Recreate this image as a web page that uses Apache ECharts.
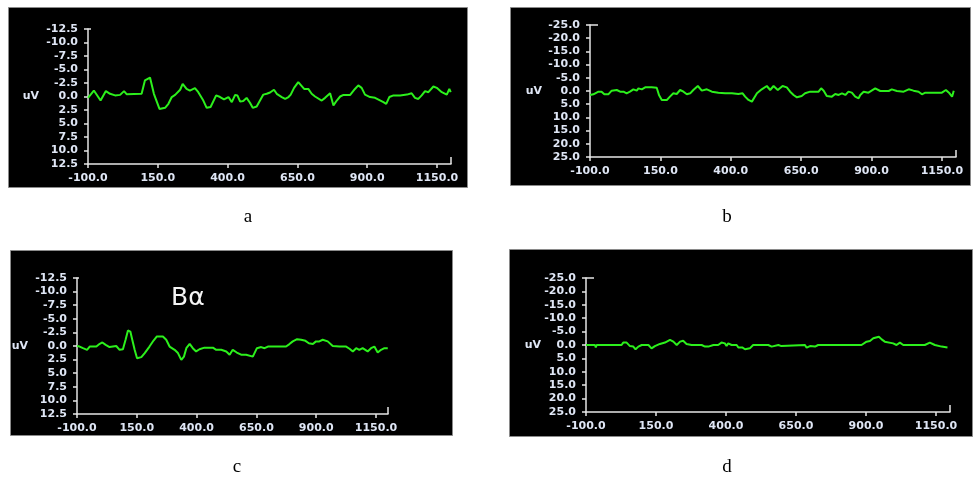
<!DOCTYPE html>
<html>
<head>
<meta charset="utf-8">
<script src="https://cdn.jsdelivr.net/npm/echarts@6/dist/echarts.min.js"></script>
<style>
  html, body { margin: 0; padding: 0; background: #ffffff; }
  #chart { width: 974px; height: 481px; }
</style>
</head>
<body>
<div id="chart"></div>
<script>
// Averaged ERP traces (uV) against time (ms), four recording conditions a-d.
const xTicks = [-100, 150, 400, 650, 900, 1150];
const xMin = -100, xMax = 1200;

const timeA = [-100, -79, -55, -36, -21, -3, 15, 29, 39, 92,
  104, 122, 136, 156, 176, 188, 200, 212, 230, 239,
  253, 265, 283, 295, 313, 325, 339, 359, 373, 387,
  403, 415, 427, 435, 445, 456, 468, 480, 490, 504,
  510, 528, 540, 552, 566, 576, 594, 606, 618, 626,
  638, 653, 659, 674, 689, 701, 713, 737, 749, 767,
  779, 791, 803, 815, 839, 856, 868, 880, 892, 910,
  928, 958, 968, 979, 994, 1018, 1042, 1059, 1071, 1083,
  1095, 1107, 1119, 1137, 1149, 1167, 1185, 1194, 1199];
const uvA = [0.25, -1.1, 0.75, -1.0, -0.5, -0.2, -0.3, -1.0, -0.4, -0.5,
  -3.0, -3.5, -0.5, 2.3, 2.1, 1.35, 0.1, -0.3, -1.25, -2.35,
  -1.4, -1.1, -1.55, -0.8, 0.75, 2.1, 1.95, -0.2, 0.1, 0.55,
  0.1, 1.05, -0.3, -0.2, 0.95, 0.85, 0.25, 1.15, 2.1, 1.85,
  1.85, -0.35, -0.5, -0.75, -1.25, -0.5, 0.1, 0.45, 0.1, -0.35,
  -1.6, -2.65, -2.55, -1.4, -1.4, -0.5, 0.0, 0.75, 0.25, -0.6,
  1.65, 0.75, 0.0, -0.3, -0.3, -1.4, -2.05, -1.6, -0.35, 0.1,
  0.25, 1.05, 1.35, 0.1, -0.2, -0.2, -0.35, -0.6, 0.25, 0.45,
  -0.2, -1.0, -0.8, -1.85, -1.6, -0.8, -0.35, -1.4, -0.8];

const timeB = [-100, -88, -70, -59, -49, -35, -23, -5, 7, 19,
  30, 42, 54, 66, 72, 84, 96, 119, 137, 145,
  155, 173, 184, 196, 208, 220, 232, 244, 256, 267,
  283, 297, 315, 333, 356, 380, 404, 427, 442, 451,
  463, 475, 481, 493, 510, 528, 540, 552, 567, 584,
  599, 611, 623, 635, 652, 664, 682, 712, 721, 730,
  741, 759, 771, 783, 795, 807, 818, 830, 842, 854,
  860, 872, 889, 913, 931, 961, 972, 990, 1014, 1032,
  1049, 1067, 1079, 1091, 1115, 1150, 1164, 1177, 1186, 1192];
const uvB = [1.5, 1.26, 0.25, 0.25, 1.26, 1.26, -0.13, -0.38, 0.25, 0.25,
  0.88, 0.25, -0.63, -0.13, -1.0, -0.63, -1.39, -1.39, -1.26, 1.5,
  3.4, 3.4, 2.14, 0.88, 1.13, -0.38, 0.25, 1.26, 0.88, -0.38,
  -1.89, -0.13, -0.63, 0.25, 0.63, 0.88, 0.88, 1.13, 0.88, 2.14,
  3.4, 4.03, 3.4, 0.88, -0.63, -1.89, -0.38, -1.89, -0.38, -1.89,
  -1.39, 0.25, 1.5, 2.39, 1.89, 0.88, 0.25, 0.25, -1.0, -0.13,
  1.89, 2.14, 1.13, 1.5, 0.88, 1.5, 0.25, 0.63, 2.14, 2.77,
  1.5, 0.25, 0.63, -1.0, 0.0, 0.0, -0.63, 0.0, 0.25, -0.63,
  -0.13, 0.25, 1.26, 0.63, 0.63, 0.63, -0.38, 0.88, 2.14, -0.13];

const timeC = [-100, -89, -75, -58, -47, -19, -5, 6, 20, 36,
  50, 64, 78, 92, 103, 113, 123, 131, 141, 151,
  169, 183, 203, 220, 234, 259, 273, 287, 308, 322,
  336, 347, 357, 371, 384, 398, 412, 433, 468, 482,
  503, 524, 538, 551, 568, 586, 607, 635, 642, 652,
  670, 684, 698, 732, 774, 788, 802, 820, 837, 855,
  869, 886, 899, 913, 927, 948, 969, 997, 1025, 1039,
  1053, 1067, 1080, 1094, 1115, 1129, 1143, 1157, 1171, 1185,
  1199];
const uvC = [0.0, 0.1, 0.4, 0.7, 0.1, 0.1, -0.4, -0.65, -0.2, 0.2,
  0.1, 0.0, 0.7, 0.6, -1.15, -2.85, -2.65, -1.15, 0.7, 2.25,
  2.05, 1.3, 0.1, -1.0, -1.75, -1.75, -1.15, 0.1, 0.7, 1.3,
  2.55, 1.95, 0.4, -0.4, 0.4, 1.0, 0.6, 0.3, 0.3, 0.7,
  0.7, 1.0, 1.6, 0.7, 1.2, 1.6, 1.6, 1.95, 1.3, 0.4,
  0.2, 0.4, 0.1, 0.1, 0.1, -0.35, -0.85, -1.25, -1.15, -0.95,
  -0.5, -0.35, -0.85, -0.85, -1.15, -0.85, 0.0, 0.1, 0.1, 0.5,
  1.0, 0.4, 0.7, 0.4, 1.0, 0.4, 0.1, 1.2, 0.7, 0.4,
  0.4];

const timeD = [-100, -68, -65, -62, 27, 33, 45, 57, 69, 77,
  87, 99, 123, 134, 146, 164, 182, 200, 212, 224,
  236, 247, 259, 277, 313, 325, 337, 355, 372, 384,
  396, 402, 408, 420, 438, 444, 458, 468, 485, 497,
  527, 551, 563, 587, 598, 682, 688, 700, 718, 729,
  825, 827, 831, 884, 902, 914, 926, 932, 946, 956,
  967, 997, 1009, 1021, 1033, 1110, 1128, 1146, 1170, 1191];
const uvD = [0, 0, 0.9, 0, 0, -0.9, -0.9, 0.4, 0.6, 1.6,
  0.6, 0, 0, 1.25, 0.4, -0.4, -0.9, -1.9, -1.25, 0,
  -1.25, -1.6, -0.4, 0, 0, 0.6, 0.6, 0, 0, -0.9,
  -0.6, 0.4, -0.6, 0, 0, 0.9, 0.9, 1.6, 1.25, 0,
  0, 0, 0.6, 0, 0.4, 0, 1.0, 0.4, 0.6, 0,
  0, 0.6, 0, 0, -1.25, -1.5, -2.5, -3.1, -3.1, -2.1,
  -1.25, -0.6, 0, -0.9, 0, 0, -0.9, 0, 0.6, 0.9];

// Panel layout: black frame, plot grid, caption, y range
const panels = [
  { caption: 'a', frame: [8, 7, 459, 180], grid: [88, 29, 363, 135], cap: [248, 217], yMax: 12.5, yStep: 2.5, topStub: 3, nameGap: 49, time: timeA, uv: uvA },
  { caption: 'b', frame: [510, 7, 460, 178], grid: [590, 25, 366, 132], cap: [727, 217], yMax: 25, yStep: 5, topStub: 8, nameGap: 48, time: timeB, uv: uvB },
  { caption: 'c', frame: [10, 250, 442, 185], grid: [77, 278, 311, 136], cap: [237, 467], yMax: 12.5, yStep: 2.5, topStub: 2, nameGap: 49, time: timeC, uv: uvC },
  { caption: 'd', frame: [509, 249, 463, 187], grid: [586, 278, 364, 134], cap: [727, 467], yMax: 25, yStep: 5, topStub: 8, nameGap: 45, time: timeD, uv: uvD }
];

const axisColor = '#e6e6e6';
const labelColor = '#dfe6f5';
const labelFont = { fontFamily: 'DejaVu Sans', fontWeight: 'bold', fontSize: 11, color: labelColor };

const chart = echarts.init(document.getElementById('chart'), null, { renderer: 'canvas' });

const grids = [], xAxes = [], yAxes = [], series = [], graphics = [];

panels.forEach((p, i) => {
  const [fx, fy, fw, fh] = p.frame;
  const [gl, gt, gw, gh] = p.grid;
  graphics.push({
    type: 'rect', z: -10, silent: true,
    shape: { x: fx + 0.5, y: fy + 0.5, width: fw, height: fh },
    style: { fill: '#000000', stroke: '#8a8a8a', lineWidth: 1 }
  });
  // small stubs closing the axes: at the top of the y axis and the far end of the x axis
  graphics.push({
    type: 'line', z: 10, silent: true,
    shape: { x1: gl, y1: gt, x2: gl + p.topStub, y2: gt },
    style: { stroke: axisColor, lineWidth: 1.5 }
  });
  graphics.push({
    type: 'line', z: 10, silent: true,
    shape: { x1: gl + gw, y1: gt + gh, x2: gl + gw, y2: gt + gh - 7 },
    style: { stroke: axisColor, lineWidth: 1.5 }
  });
  graphics.push({
    type: 'text', silent: true,
    x: p.cap[0], y: p.cap[1],
    style: { text: p.caption, font: '19px "Liberation Serif", "DejaVu Serif", serif', fill: '#000000', align: 'center', verticalAlign: 'middle' }
  });

  grids.push({ left: gl, top: gt, width: gw, height: gh, containLabel: false });
  xAxes.push({
    gridIndex: i, type: 'value', min: xMin, max: xMax,
    axisLine: { onZero: false, lineStyle: { color: axisColor, width: 1.5 } },
    axisTick: { show: true, length: 4, customValues: xTicks, lineStyle: { color: axisColor, width: 1.5 } },
    axisLabel: Object.assign({ margin: 9, customValues: xTicks, formatter: v => v.toFixed(1) }, labelFont),
    splitLine: { show: false }
  });
  yAxes.push({
    gridIndex: i, type: 'value', inverse: true,
    min: -p.yMax, max: p.yMax, interval: p.yStep,
    name: 'uV', nameLocation: 'middle', nameRotate: 0, nameGap: p.nameGap,
    nameMoveOverlap: false,
    nameTextStyle: Object.assign({}, labelFont),
    axisLine: { show: true, onZero: false, lineStyle: { color: axisColor, width: 1.5 } },
    axisTick: { show: true, length: 4, lineStyle: { color: axisColor, width: 1.5 } },
    axisLabel: Object.assign({ margin: 10, formatter: v => v.toFixed(1) }, labelFont),
    splitLine: { show: false }
  });
  series.push({
    type: 'line', xAxisIndex: i, yAxisIndex: i,
    data: p.time.map((t, k) => [t, p.uv[k]]),
    showSymbol: false, symbol: 'none', animation: false,
    lineStyle: { color: '#2cf01c', width: 2 }
  });
});

// Greek label inside panel c
graphics.push({
  type: 'text', silent: true, x: 171, y: 298,
  style: { text: 'Bα', font: '25px "Liberation Sans Narrow", "DejaVu Sans", sans-serif', fill: '#f4f4f4', align: 'left', verticalAlign: 'middle' }
});

chart.setOption({
  animation: false,
  backgroundColor: '#ffffff',
  grid: grids,
  xAxis: xAxes,
  yAxis: yAxes,
  series: series,
  graphic: graphics
});
</script>
</body>
</html>
